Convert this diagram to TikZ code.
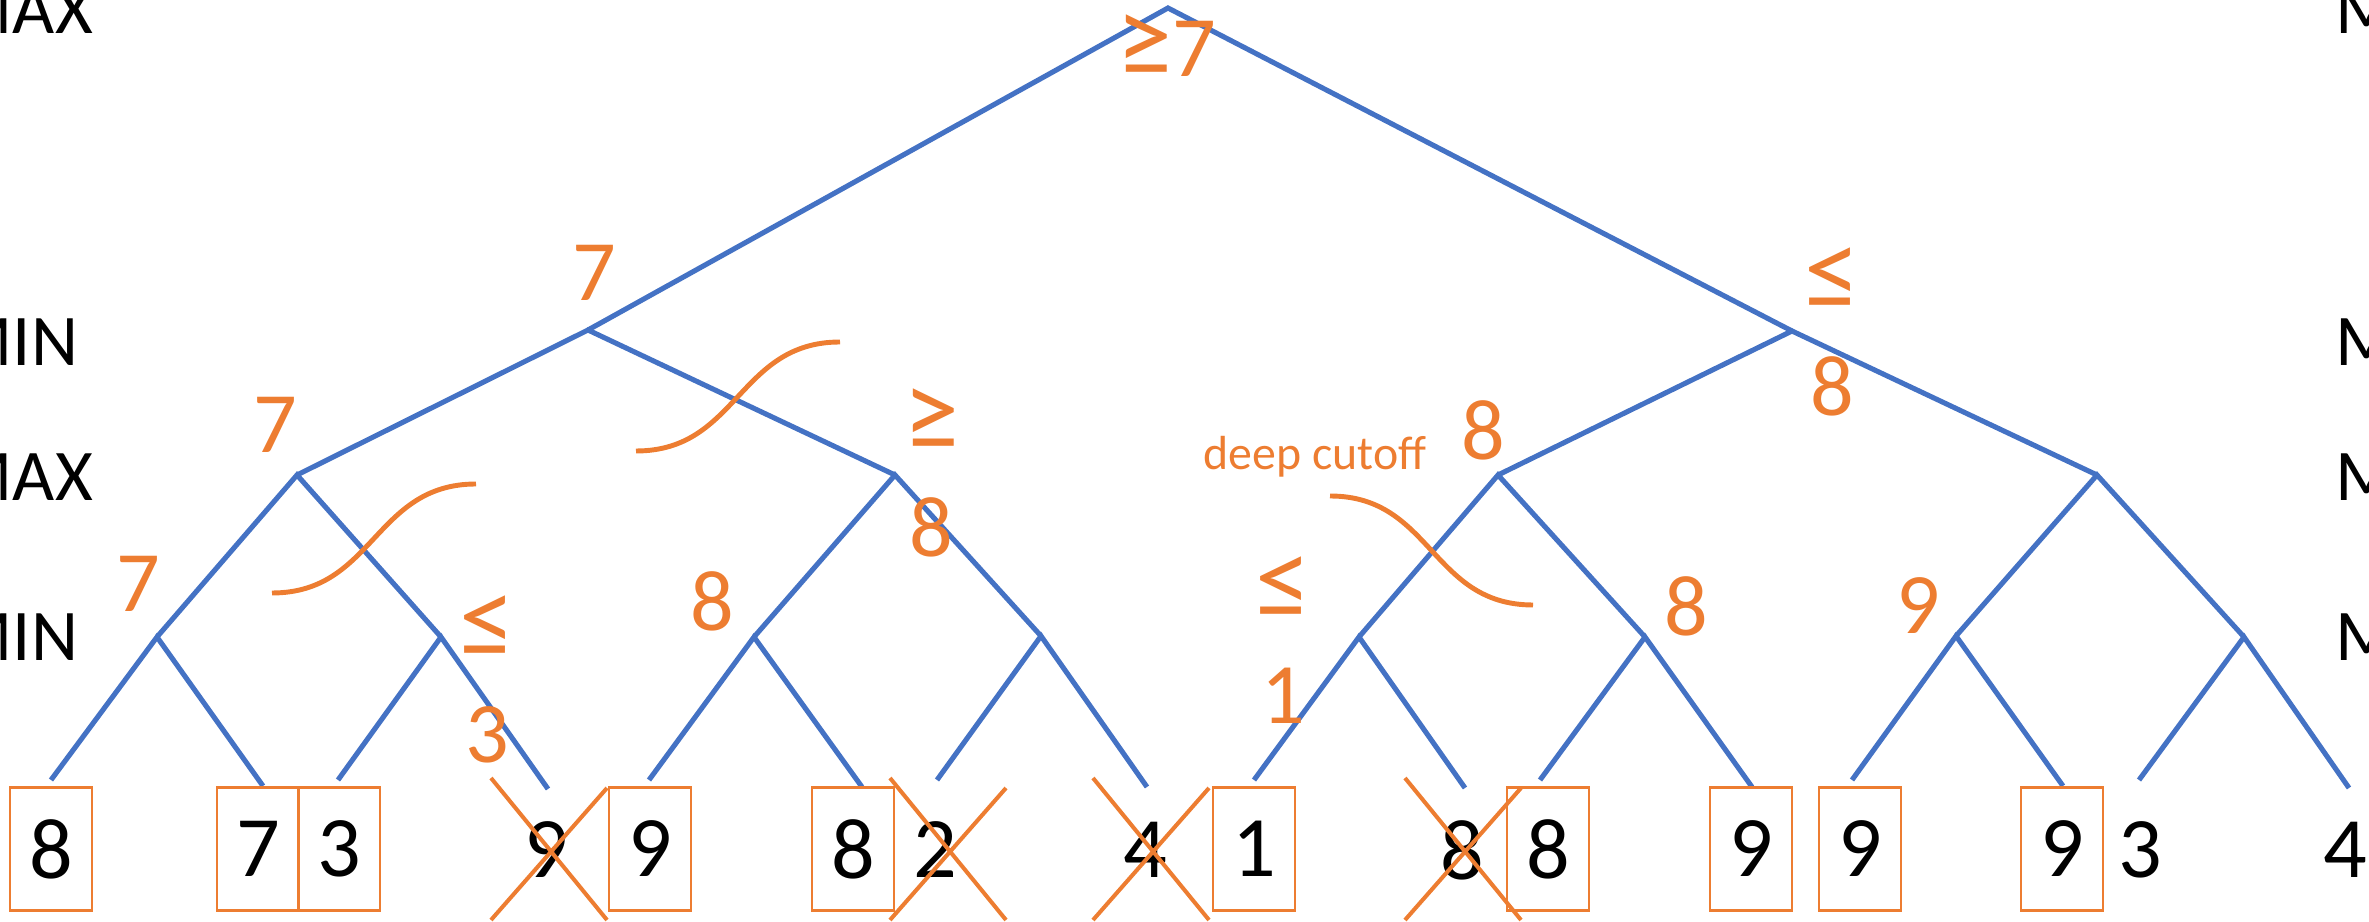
\documentclass[tikz,border=0pt]{standalone}
\usepackage{fontspec}
\setmainfont{Carlito}
\usepackage{graphicx}
\usepackage{tikz}
\definecolor{treeblue}{HTML}{4472C4}
\definecolor{cutorange}{HTML}{ED7D31}
\newcommand{\lesym}{\scalebox{1.3}{≤}}
\newcommand{\gesym}{\scalebox{1.3}{≥}}

\begin{document}
\begin{tikzpicture}[x=0.01cm, y=-0.01cm,
  edge/.style={treeblue, line width=1.45pt},
  val/.style={cutorange, inner sep=0pt, align=center, font=\fontsize{24.5}{29.9}\selectfont},
  leaf/.style={inner sep=0pt, font=\fontsize{24.5}{29.9}\selectfont},
  boxed/.style={leaf, draw=cutorange, line width=0.8pt, minimum width=0.82cm, minimum height=1.23cm},
  lvl/.style={inner sep=0pt, anchor=west, font=\fontsize{20.7}{24}\selectfont},
  cut/.style={cutorange, line width=1.4pt},
  strike/.style={cutorange, line width=1.15pt}]
\useasboundingbox (0,0) rectangle (2369,922);
% level names
\node[lvl] (maxL) at (-50,10) {MAX};
\node[lvl] (minL) at (-50,342) {MIN};
\node[lvl] (maxL2) at (-50,477) {MAX};
\node[lvl] (minL2) at (-50,637) {MIN};
\node[lvl] (maxR) at (2335,10) {MAX};
\node[lvl] (minR) at (2335,342) {MIN};
\node[lvl] (maxR2) at (2335,477) {MAX};
\node[lvl] (minR2) at (2335,637) {MIN};
% tree
\coordinate (root) at (1168,8);
\coordinate (a) at (588,330);
\coordinate (b) at (1792,331);
\coordinate (a1) at (297,475);
\coordinate (a2) at (895,475);
\coordinate (b1) at (1498,475);
\coordinate (b2) at (2097,475);
\coordinate (a11) at (157,637);
\coordinate (a12) at (441,637);
\coordinate (a21) at (754,637);
\coordinate (a22) at (1041,636);
\coordinate (b11) at (1359,637);
\coordinate (b12) at (1645,637);
\coordinate (b21) at (1956,636);
\coordinate (b22) at (2244,637);
% leaf ends
\coordinate (e1) at (51,780);   \coordinate (e2) at (263,786);
\coordinate (e3) at (338,780);  \coordinate (e4) at (548,789);
\coordinate (e5) at (649,780);  \coordinate (e6) at (862,787);
\coordinate (e7) at (937,780);  \coordinate (e8) at (1147,787);
\coordinate (e9) at (1254,780); \coordinate (e10) at (1465,788);
\coordinate (e11) at (1540,780); \coordinate (e12) at (1752,787);
\coordinate (e13) at (1852,780); \coordinate (e14) at (2063,786);
\coordinate (e15) at (2139,780); \coordinate (e16) at (2349,788);
\draw[edge] (a) -- (root) -- (b);
\draw[edge] (a1) -- (a) -- (a2);
\draw[edge] (b1) -- (b) -- (b2);
\draw[edge] (a11) -- (a1) -- (a12);
\draw[edge] (a21) -- (a2) -- (a22);
\draw[edge] (b11) -- (b1) -- (b12);
\draw[edge] (b21) -- (b2) -- (b22);
\draw[edge] (e1) -- (a11) -- (e2);
\draw[edge] (e3) -- (a12) -- (e4);
\draw[edge] (e5) -- (a21) -- (e6);
\draw[edge] (e7) -- (a22) -- (e8);
\draw[edge] (e9) -- (b11) -- (e10);
\draw[edge] (e11) -- (b12) -- (e12);
\draw[edge] (e13) -- (b21) -- (e14);
\draw[edge] (e15) -- (b22) -- (e16);
% leaves
\node[boxed] (t1) at (51,849) {8};
\node[boxed] (t2) at (258,849) {7};
\node[boxed] (t3) at (339,849) {3};
\node[leaf] (t4) at (546,850) {9};
\node[boxed] (t5) at (650,849) {9};
\node[boxed] (t6) at (853,849) {8};
\node[leaf] (t7) at (935,850) {2};
\node[leaf] (t8) at (1145,850) {4};
\node[boxed] (t9) at (1254,849) {1};
\node[leaf] (t10) at (1462,850) {8};
\node[boxed] (t11) at (1548,849) {8};
\node[boxed] (t12) at (1751,849) {9};
\node[boxed] (t13) at (1860,849) {9};
\node[boxed] (t14) at (2062,849) {9};
\node[leaf] (t15) at (2140,850) {3};
\node[leaf] (t16) at (2345,850) {4};
% pruned leaves
\foreach \c in {549,948,1151,1463}
  \draw[strike] (\c-58,778) -- (\c+58,920) (\c-58,920) -- (\c+58,788);
% backed-up values
\node[val] (vroot) at (1166,46) {\gesym7};
\node[val] (va) at (594,273) {7};
\node[val] (vb) at (1832,332) {\lesym\\8};
\node[val] (va1) at (275,425) {7};
\node[val] (va2) at (931,473) {\gesym\\8};
\node[val] (vb1) at (1483,430) {8};
\node[val] (va11) at (138,584) {7};
\node[val] (va12) at (487,679) {\lesym\\3};
\node[val] (va21) at (712,601) {8};
\node[val] (vb11) at (1283,640) {\lesym\\1};
\node[val] (vb12) at (1686,606) {8};
\node[val] (vb21) at (1918,606) {9};
\node[cutorange, inner sep=0pt, anchor=base, font=\fontsize{13.6}{16}\selectfont] (deep) at (1315,470) {deep cutoff};
% cutoffs
\draw[cut] (272,593) .. controls (374,593) and (374,484) .. (476,484);
\draw[cut] (636,451) .. controls (738,451) and (738,342) .. (840,342);
\draw[cut] (1330,496) .. controls (1432,496) and (1431,605) .. (1533,605);
\end{tikzpicture}
\end{document}
